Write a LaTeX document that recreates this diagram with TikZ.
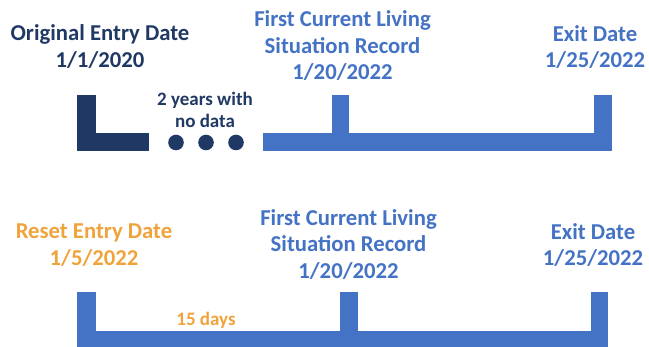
\documentclass[tikz,border=0pt]{standalone}
\usepackage{fontspec}
\setmainfont{Carlito}
\definecolor{navy}{HTML}{203864}
\definecolor{barblue}{HTML}{4472C4}
\definecolor{orng}{HTML}{F0A33B}
\begin{document}
\begin{tikzpicture}[x=1pt,y=-1pt,
  big/.style={align=center,inner sep=0pt,font=\fontsize{22.7}{26.5}\selectfont\bfseries},
  small/.style={align=center,inner sep=0pt,font=\fontsize{19}{22.5}\selectfont\bfseries},
  navybar/.style={fill=navy,draw=none},
  bluebar/.style={fill=barblue,draw=none}]
\useasboundingbox (0,0) rectangle (649,347);
\clip (0,0) rectangle (649,347);
% top row bars
\fill[navybar] (77,95) rectangle (96,151);
\fill[navybar] (77,133) rectangle (149,151);
\fill[navybar] (176,142.5) circle (7.8);
\fill[navybar] (206,142.5) circle (7.8);
\fill[navybar] (236,142.5) circle (7.8);
\fill[bluebar] (263,133) rectangle (612,151);
\fill[bluebar] (332,95) rectangle (349,133);
\fill[bluebar] (594,95) rectangle (612,151);
% bottom row bars
\fill[bluebar] (77,331) rectangle (608,352);
\fill[bluebar] (77,292) rectangle (96,331);
\fill[bluebar] (340,292) rectangle (358,331);
\fill[bluebar] (591,292) rectangle (608,331);
% top labels
\node[big,text=navy] (oed) at (100,46.5) {Original Entry Date\\1/1/2020};
\node[small,text=navy] (gap) at (205,110) {2 years with\\no data};
\node[big,text=barblue] (fcls1) at (342.5,46) {First Current Living\\Situation Record\\1/20/2022};
\node[big,text=barblue] (exit1) at (595,47) {Exit Date\\1/25/2022};
% bottom labels
\node[big,text=orng] (red) at (94,245) {Reset Entry Date\\1/5/2022};
\node[big,text=barblue] (fcls2) at (348.5,244.5) {First Current Living\\Situation Record\\1/20/2022};
\node[big,text=barblue] (exit2) at (593,245) {Exit Date\\1/25/2022};
\node[small,text=orng] (days) at (206,320) {15 days};
\end{tikzpicture}
\end{document}
